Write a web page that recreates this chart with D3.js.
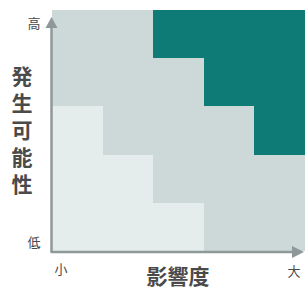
<!DOCTYPE html>
<html>
<head>
<meta charset="utf-8">
<script src="https://cdn.jsdelivr.net/npm/d3@7"></script>
<style>
  body { margin: 0; background: #fff; }
  text { font-family: "Noto Sans CJK JP", sans-serif; fill: #4a4a4a; }
</style>
</head>
<body>
<div id="chart"></div>
<script>
// impact (left -> right) and likelihood (bottom -> top)
const impacts = [1, 2, 3, 4, 5];
const likelihoods = [5, 4, 3, 2, 1];
// risk level per row, top row = likelihood 5
const row5 = [2, 2, 3, 3, 3];
const row4 = [2, 2, 2, 3, 3];
const row3 = [1, 2, 2, 2, 3];
const row2 = [1, 1, 2, 2, 2];
const row1 = [1, 1, 1, 2, 2];
const levels = [row5, row4, row3, row2, row1];

const xLabel = "影響度";
const yLabel = "発生可能性";
const xEnds = ["小", "大"];
const yEnds = ["低", "高"];

const width = 305, height = 289;
const margin = {top: 10, right: 0, bottom: 38, left: 52};

const svg = d3.select("#chart")
  .append("svg")
  .attr("width", width)
  .attr("height", height);

const x = d3.scaleBand()
  .domain(impacts)
  .range([margin.left, width - margin.right]);

const y = d3.scaleBand()
  .domain(likelihoods)
  .range([margin.top, height - margin.bottom]);

const color = d3.scaleOrdinal()
  .domain([1, 2, 3])
  .range(["#e5ecec", "#cdd9d9", "#0f7b77"]);

const cells = [];
likelihoods.forEach((l, i) => {
  impacts.forEach((imp, j) => {
    cells.push({impact: imp, likelihood: l, level: levels[i][j]});
  });
});

// snap cell edges to whole pixels so neighbours meet without seams
svg.selectAll("rect.cell")
  .data(cells)
  .enter()
  .append("rect")
  .attr("class", "cell")
  .attr("x", d => Math.round(x(d.impact)))
  .attr("y", d => Math.round(y(d.likelihood)))
  .attr("width", d => Math.round(x(d.impact) + x.bandwidth()) - Math.round(x(d.impact)))
  .attr("height", d => Math.round(y(d.likelihood) + y.bandwidth()) - Math.round(y(d.likelihood)))
  .attr("shape-rendering", "crispEdges")
  .attr("fill", d => color(d.level));

// axes with arrows
const axisColor = "#8f9898";
const x0 = margin.left - 0.5;
const y0 = height - margin.bottom + 1;

svg.append("line")
  .attr("x1", x0).attr("x2", x0)
  .attr("y1", y0).attr("y2", 24)
  .attr("stroke", axisColor)
  .attr("stroke-width", 2.5);

svg.append("path")
  .attr("d", `M${x0},17 L${x0 - 6},28 L${x0 + 6},28 Z`)
  .attr("fill", axisColor);

svg.append("line")
  .attr("x1", x0 - 1).attr("x2", 296)
  .attr("y1", y0).attr("y2", y0)
  .attr("stroke", axisColor)
  .attr("stroke-width", 2.5);

svg.append("path")
  .attr("d", `M304,${y0} L292,${y0 - 6} L292,${y0 + 6} Z`)
  .attr("fill", axisColor);

// end labels
svg.append("text")
  .attr("x", 34).attr("y", 28)
  .attr("text-anchor", "middle")
  .style("font-size", "13px")
  .text(yEnds[1]);

svg.append("text")
  .attr("x", 34).attr("y", 247)
  .attr("text-anchor", "middle")
  .style("font-size", "13px")
  .text(yEnds[0]);

svg.append("text")
  .attr("x", 61).attr("y", 274)
  .attr("text-anchor", "middle")
  .style("font-size", "13px")
  .text(xEnds[0]);

svg.append("text")
  .attr("x", 294).attr("y", 276)
  .attr("text-anchor", "middle")
  .style("font-size", "13px")
  .text(xEnds[1]);

// axis titles
svg.append("text")
  .attr("x", 178).attr("y", 284)
  .attr("text-anchor", "middle")
  .style("font-size", "21px")
  .style("font-weight", "bold")
  .text(xLabel);

// vertical title set in one vertical text run
svg.append("text")
  .attr("x", 22)
  .attr("y", 66)
  .style("writing-mode", "vertical-rl")
  .style("font-size", "21px")
  .style("font-weight", "bold")
  .style("letter-spacing", "6px")
  .text(yLabel);
</script>
</body>
</html>
